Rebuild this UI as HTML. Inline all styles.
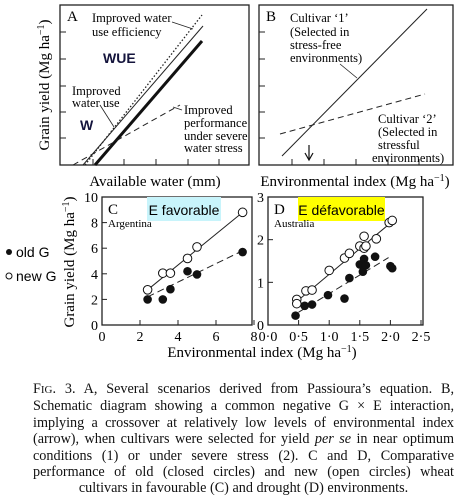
<!DOCTYPE html>
<html><head><meta charset="utf-8"><style>
body{margin:0;background:#fff;width:458px;height:494px;overflow:hidden}
svg{position:absolute;left:0;top:0}
.cap{position:absolute;left:33px;top:381px;width:421px;font:14.2px "Liberation Serif",serif;line-height:16.4px;color:#111}
.cap .j{text-align:justify;text-align-last:justify}
.cap .c{text-align:center}
</style></head><body>
<svg width="458" height="494" font-family="Liberation Serif, serif">
<g>
<rect x="60" y="5" width="189" height="160" fill="none" stroke="#222" stroke-width="1.3"/>
<g stroke="#222" stroke-width="1">
<line x1="60" y1="32" x2="66" y2="32"/><line x1="60" y1="59" x2="66" y2="59"/><line x1="60" y1="86" x2="66" y2="86"/><line x1="60" y1="112" x2="66" y2="112"/><line x1="60" y1="138" x2="66" y2="138"/>
<line x1="93" y1="165" x2="93" y2="159"/><line x1="124" y1="165" x2="124" y2="159"/><line x1="156" y1="165" x2="156" y2="159"/><line x1="188" y1="165" x2="188" y2="159"/><line x1="219" y1="165" x2="219" y2="159"/>
</g>
<line x1="83" y1="165" x2="203" y2="26" stroke="#222" stroke-width="1"/>
<line x1="85" y1="165" x2="202" y2="15" stroke="#222" stroke-width="1.3" stroke-dasharray="1.5,2"/>
<line x1="95" y1="165" x2="202" y2="41" stroke="#111" stroke-width="3"/>
<line x1="73" y1="165" x2="180" y2="105" stroke="#222" stroke-width="1" stroke-dasharray="6,4"/>
<line x1="172" y1="22" x2="193" y2="29" stroke="#222" stroke-width="0.8"/>
<line x1="100" y1="105" x2="114" y2="127" stroke="#222" stroke-width="0.8"/>
<line x1="173" y1="107" x2="182" y2="110" stroke="#222" stroke-width="0.8"/>
<text x="67" y="21" font-size="15">A</text>
<text x="92" y="22" font-size="12.5">Improved water</text>
<text x="92" y="36" font-size="12.5">use efficiency</text>
<text x="103" y="63" font-size="14" font-weight="bold" font-family="Liberation Sans, sans-serif" fill="#14143c">WUE</text>
<text x="72" y="95" font-size="12.5">Improved</text>
<text x="72" y="107" font-size="12.5">water use</text>
<text x="80" y="130" font-size="14" font-weight="bold" font-family="Liberation Sans, sans-serif" fill="#14143c">W</text>
<text x="184" y="114" font-size="12.5">Improved</text>
<text x="184" y="127" font-size="12.5">performance</text>
<text x="184" y="140" font-size="12.5">under severe</text>
<text x="184" y="152" font-size="12.5">water stress</text>
<text x="49" y="85" font-size="15" transform="rotate(-90 49 85)" text-anchor="middle">Grain yield (Mg ha<tspan font-size="10" dy="-5">−1</tspan><tspan dy="5">)</tspan></text>
<text x="155" y="186" font-size="15" text-anchor="middle">Available water (mm)</text>
</g>
<g>
<rect x="259" y="5" width="194" height="160" fill="none" stroke="#222" stroke-width="1.3"/>
<g stroke="#222" stroke-width="1">
<line x1="259" y1="32" x2="265" y2="32"/><line x1="259" y1="59" x2="265" y2="59"/><line x1="259" y1="86" x2="265" y2="86"/><line x1="259" y1="112" x2="265" y2="112"/><line x1="259" y1="138" x2="265" y2="138"/>
<line x1="292" y1="165" x2="292" y2="159"/><line x1="324" y1="165" x2="324" y2="159"/><line x1="356" y1="165" x2="356" y2="159"/><line x1="388" y1="165" x2="388" y2="159"/><line x1="419" y1="165" x2="419" y2="159"/>
</g>
<line x1="282" y1="156" x2="427" y2="9" stroke="#222" stroke-width="1"/>
<line x1="280" y1="134" x2="425" y2="94" stroke="#222" stroke-width="1" stroke-dasharray="6,4"/>
<line x1="340" y1="64" x2="357" y2="78" stroke="#222" stroke-width="0.8"/>
<line x1="309" y1="145" x2="309" y2="159" stroke="#111" stroke-width="1.2"/>
<path d="M305,153 L309,160 L313,153" fill="none" stroke="#111" stroke-width="1.2"/>
<text x="266" y="21" font-size="15">B</text>
<text x="290" y="22" font-size="12.5">Cultivar ‘1’</text>
<text x="290" y="36" font-size="12.5">(Selected in</text>
<text x="290" y="49" font-size="12.5">stress-free</text>
<text x="290" y="62" font-size="12.5">environments)</text>
<text x="378" y="123" font-size="12.5">Cultivar ‘2’</text>
<text x="378" y="136" font-size="12.5">(Selected in</text>
<text x="378" y="149" font-size="12.5">stressful</text>
<text x="372" y="162" font-size="12.5">environments)</text>
<text x="355" y="186" font-size="15" text-anchor="middle">Environmental index (Mg ha<tspan font-size="10" dy="-5">−1</tspan><tspan dy="5">)</tspan></text>
</g>
<g id="pc"></g>
<g id="pd"></g>
<text x="74" y="262" font-size="15" transform="rotate(-90 74 262)" text-anchor="middle">Grain yield (Mg ha<tspan font-size="10" dy="-5">−1</tspan><tspan dy="5">)</tspan></text>
<text x="262" y="357" font-size="15" text-anchor="middle">Environmental index (Mg ha<tspan font-size="10" dy="-5">−1</tspan><tspan dy="5">)</tspan></text>
<g font-family="Liberation Sans, sans-serif" font-size="14">
<circle cx="9" cy="252" r="3" fill="#111"/><text x="16" y="257">old G</text>
<circle cx="9" cy="276" r="3" fill="#fff" stroke="#111"/><text x="16" y="281">new G</text>
</g>
</svg>
<div class="cap"><div class="j">F<span style="font-size:11px">IG</span>. 3. A, Several scenarios derived from Passioura’s equation. B, Schematic diagram showing a common negative G × E interaction, implying a crossover at relatively low levels of environmental index (arrow), when cultivars were selected for yield <i>per se</i> in near optimum conditions (1) or under severe stress (2). C and D, Comparative performance of old (closed circles) and new (open circles) wheat</div><div class="c">cultivars in favourable (C) and drought (D) environments.</div></div>
<script>
const cOldX=[2.4,3.2,3.6,4.5,5.0,7.4];
const cOldY=[2.0,2.0,2.8,4.2,3.95,5.7];
const cNewX=[2.4,3.2,3.6,4.5,5.0,7.4];
const cNewY=[2.75,4.05,4.05,5.2,6.1,8.8];
const cNewLine=[[2.4,2.75],[7.4,8.8]];
const cOldLine=[[2.4,2.2],[7.4,5.8]];
const cXTicks=[0,2,4,6,8];
const cYTicks=[0,2,4,6,8,10];
const dNewX=[0.47,0.47,0.62,0.72,1.0,1.25,1.33,1.5,1.57,1.57,1.6,1.77,1.98,2.03];
const dNewY=[0.6,0.5,0.8,0.82,1.28,1.57,1.68,1.85,2.08,1.8,1.85,2.02,2.4,2.45];
const dOldX=[0.45,0.6,0.72,0.98,1.25,1.33,1.5,1.55,1.57,1.6,1.75,2.0,2.03];
const dOldY=[0.22,0.45,0.48,0.7,0.62,1.1,1.42,1.25,1.55,1.4,1.6,1.38,1.33];
const dNewLine=[[0.47,0.55],[2.05,2.45]];
const dOldLine=[[0.5,0.3],[1.97,1.58]];
const dXTicks=[0,0.5,1,1.5,2,2.5];
const dXLabels=["0·0","0·5","1·0","1·5","2·0","2·5"];
const dYTicks=[0,1,2,3];
const NS="http://www.w3.org/2000/svg";
function mk(p,t,a){const e=document.createElementNS(NS,t);for(const k in a)e.setAttribute(k,a[k]);p.appendChild(e);return e;}
function panel(g,o){
 const X=v=>o.x0+(v-o.xmin)/(o.xmax-o.xmin)*(o.x1-o.x0);
 const Y=v=>o.y0-(v-o.ymin)/(o.ymax-o.ymin)*(o.y0-o.y1);
 const r=mk(g,'rect',{x:o.x0,y:o.y1,width:o.bw,height:o.y0-o.y1,fill:'none',stroke:'#222','stroke-width':1.3});
 
 
 mk(g,'rect',o.hl);
 const ht=mk(g,'text',{x:o.hl.x+o.hl.width/2,y:o.hl.y+18,'font-size':14,'text-anchor':'middle','font-family':'Liberation Sans, sans-serif'});
 ht.textContent=o.hlText;
 
 
 const lt=mk(g,'text',{x:o.x0+6,y:o.y1+17,'font-size':15});lt.textContent=o.letter;
 const st=mk(g,'text',{x:o.x0+6,y:o.y1+30,'font-size':11});st.textContent=o.site;
 o.xt.forEach((v,i)=>{mk(g,'line',{x1:X(v),x2:X(v),y1:o.y0,y2:o.y0-5,stroke:'#222'});
  const t=mk(g,'text',{x:X(v),y:o.y0+16,'font-size':14,'text-anchor':'middle'});t.textContent=o.xl[i];
  
  });
 o.yt.forEach(v=>{mk(g,'line',{x1:o.x0,x2:o.x0+5,y1:Y(v),y2:Y(v),stroke:'#222'});
  const t=mk(g,'text',{x:o.x0-4,y:Y(v)+5,'font-size':14,'text-anchor':'end'});t.textContent=v;
  
  });
 const l1=mk(g,'line',{x1:X(o.nl[0][0]),y1:Y(o.nl[0][1]),x2:X(o.nl[1][0]),y2:Y(o.nl[1][1]),stroke:'#222'});
 
 
 const l2=mk(g,'line',{x1:X(o.ol[0][0]),y1:Y(o.ol[0][1]),x2:X(o.ol[1][0]),y2:Y(o.ol[1][1]),stroke:'#222','stroke-dasharray':'7,4'});
 
 
 o.ox.forEach((v,i)=>{const c=mk(g,'circle',{cx:X(v),cy:Y(o.oy[i]),r:4.3,fill:'#111'});
  
  });
 o.nx.forEach((v,i)=>{const c=mk(g,'circle',{cx:X(v),cy:Y(o.ny[i]),r:4.3,fill:'#fff',stroke:'#111','stroke-width':1});
  
  });
}
panel(document.getElementById('pc'),{x0:102,x1:254,bw:150,xmin:0,xmax:8,y0:325,y1:197,ymin:0,ymax:10,
 xt:cXTicks,xl:cXTicks,yt:cYTicks,nl:cNewLine,ol:cOldLine,ox:cOldX,oy:cOldY,nx:cNewX,ny:cNewY,
 letter:'C',site:'Argentina',hlText:'E favorable',hl:{x:147,y:197,width:74,height:24,fill:'#c8f4fb'}});
panel(document.getElementById('pd'),{x0:268,x1:421,bw:155,xmin:0,xmax:2.5,y0:325,y1:197,ymin:0,ymax:3,
 xt:dXTicks,xl:dXLabels,yt:dYTicks,nl:dNewLine,ol:dOldLine,ox:dOldX,oy:dOldY,nx:dNewX,ny:dNewY,
 letter:'D',site:'Australia',hlText:'E défavorable',hl:{x:298,y:197,width:87,height:24,fill:'#ffff00'}});
</script>
</body></html>
